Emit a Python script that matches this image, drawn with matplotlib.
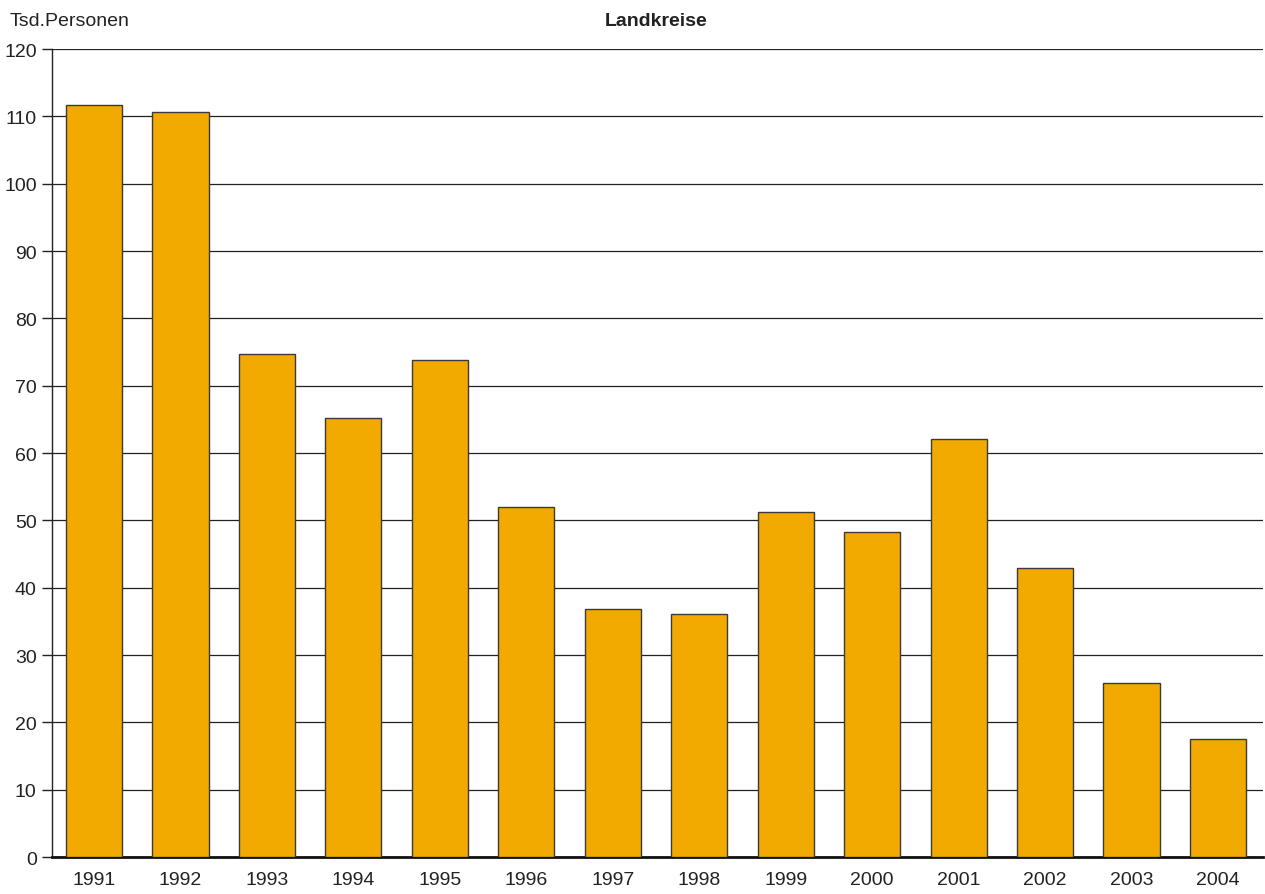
import matplotlib
matplotlib.use("Agg")
import matplotlib.pyplot as plt
from matplotlib import font_manager

years = ["1991", "1992", "1993", "1994", "1995", "1996", "1997",
         "1998", "1999", "2000", "2001", "2002", "2003", "2004"]
values = [111.7, 110.6, 74.7, 65.2, 73.8, 52.0, 36.8,
          36.1, 51.2, 48.3, 62.1, 42.9, 25.8, 17.5]
yticks = [0, 10, 20, 30, 40, 50, 60, 70, 80, 90, 100, 110, 120]

names = {f.name for f in font_manager.fontManager.ttflist}
fam = ["Liberation Sans Narrow", "DejaVu Sans"] if "Liberation Sans Narrow" in names else ["Liberation Sans", "DejaVu Sans"]
plt.rcParams["font.family"] = fam

fig = plt.figure(figsize=(12.65, 8.95), dpi=100)
ax = fig.add_axes([0.0411, 0.0413, 0.9573, 0.9027])

x = list(range(len(years)))
ax.bar(x, values, width=0.65, color="#F2A900", edgecolor="#3a3a3a", linewidth=1.0, zorder=3)

ax.set_xlim(-0.486, 13.52)
ax.set_ylim(0, 120)
ax.set_yticks(yticks)
ax.set_yticklabels([str(v) for v in yticks], fontsize=14, color="#222222")
ax.set_xticks(x)
ax.set_xticklabels(years, fontsize=14, color="#222222")
ax.yaxis.grid(True, color="#222222", linewidth=0.9, zorder=0)
ax.set_axisbelow(True)

for s in ["top", "right"]:
    ax.spines[s].set_visible(False)
ax.spines["left"].set_color("#222222")
ax.spines["left"].set_linewidth(1.0)
ax.spines["bottom"].set_color("#111111")
ax.spines["bottom"].set_linewidth(2.0)
ax.tick_params(axis="y", length=7, width=1, color="#222222", pad=4)
ax.tick_params(axis="x", length=0, pad=10)

fig.text(0.008, 0.967, "Tsd.Personen", fontsize=14, color="#222222", ha="left", va="bottom")
fig.text(0.519, 0.967, "Landkreise", fontsize=14, fontweight="bold", color="#222222", ha="center", va="bottom")

fig.savefig("out.png", dpi=100)
